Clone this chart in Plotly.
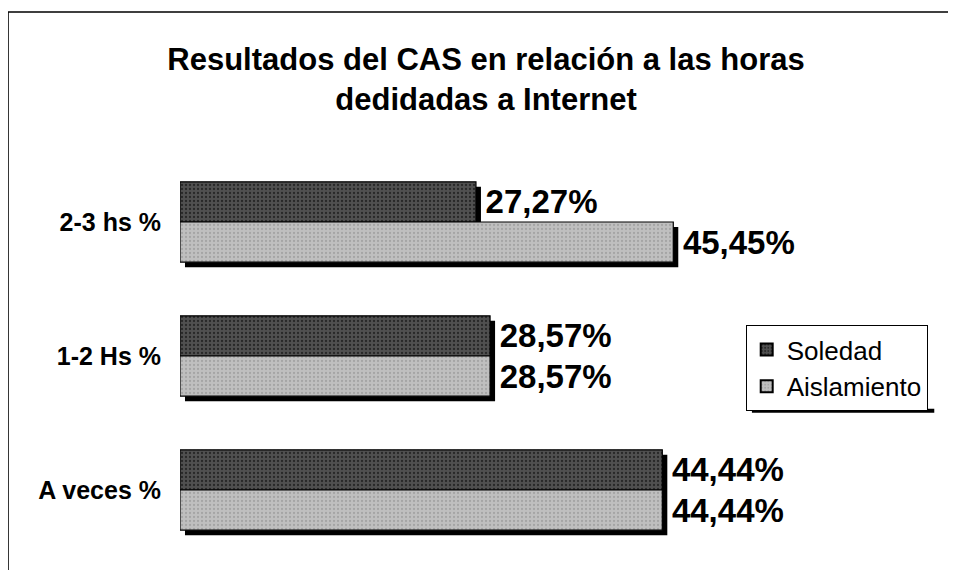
import plotly.graph_objects as go

categories = ["2-3 hs %", "1-2 Hs %", "A veces %"]
soledad = [27.27, 28.57, 44.44]
aislamiento = [45.45, 28.57, 44.44]
series_names = ["Soledad", "Aislamiento"]

def fmt(v):
    return "\u2009" + f"{v:.2f}".replace(".", ",") + "%"

FONT = "Liberation Sans, Arial, sans-serif"
BAR_W = 0.3
SH_X = 0.46
SH_Y = 0.037
colors = ["#505050", "#bfbfbf"]
offsets = [-BAR_W, 0.0]

fig = go.Figure()
# shadows
for vals, off in zip([soledad, aislamiento], offsets):
    fig.add_trace(go.Bar(
        y=categories, x=vals, base=[SH_X] * len(vals), orientation="h",
        offset=off + SH_Y, width=BAR_W,
        marker=dict(color="black", line=dict(width=0)),
        showlegend=False, hoverinfo="skip",
    ))
# main bars
for name, vals, off, col in zip(series_names, [soledad, aislamiento], offsets, colors):
    fig.add_trace(go.Bar(
        y=categories, x=vals, orientation="h", name=name,
        offset=off, width=BAR_W,
        marker=dict(color=col, line=dict(color="black", width=1.2),
                    pattern=dict(shape=".", fgcolor="#000000" if name == "Soledad" else "#8a8a8a",
                                 bgcolor=col, size=4, solidity=0.25)),
        text=[fmt(v) for v in vals], textposition="outside",
        textfont=dict(family=FONT, size=33, color="black", weight="bold"),
        cliponaxis=False,
    ))

fig.update_layout(
    width=956, height=570,
    barmode="overlay",
    paper_bgcolor="white", plot_bgcolor="white",
    margin=dict(l=172, r=8, t=147, b=21),
    title=dict(
        text="<b>Resultados del CAS en relación a las horas<br>dedidadas a Internet</b>",
        x=0.5, xanchor="center", y=0.891, yanchor="top",
        font=dict(family=FONT, size=31, color="black"),
    ),
    xaxis=dict(range=[0, 71.5], visible=False, showgrid=False, zeroline=False),
    yaxis=dict(autorange="reversed", showgrid=False, zeroline=False, showline=False,
               ticks="", ticklabelstandoff=18,
               tickfont=dict(family=FONT, size=25, color="black", weight="bold")),
    legend=dict(
        x=0.729, y=0.577, xanchor="left", yanchor="top",
        bgcolor="white", bordercolor="black", borderwidth=1,
        font=dict(family=FONT, size=26, color="black"),
        itemsizing="constant", tracegroupgap=0,
    ),
    shapes=[
        dict(type="rect", xref="paper", yref="paper",
             x0=-0.2216, x1=1.05, y0=-0.1, y1=1.356,
             line=dict(color="black", width=1.5), fillcolor="rgba(0,0,0,0)"),
        dict(type="line", xref="paper", yref="paper",
             x0=0.737, x1=0.972, y0=0.364, y1=0.364,
             line=dict(color="black", width=4)),
    ],
    showlegend=True,
)

fig.write_html("out.html")
